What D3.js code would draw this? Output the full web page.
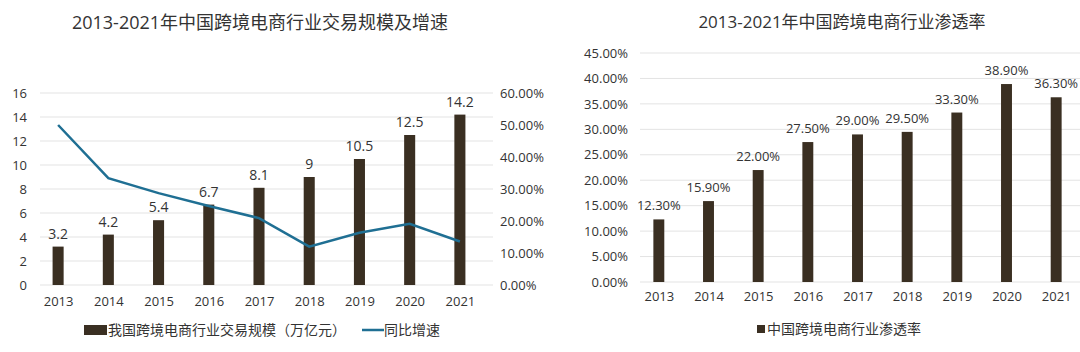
<!DOCTYPE html>
<html>
<head>
<meta charset="utf-8">
<script src="https://cdn.jsdelivr.net/npm/d3@7"></script>
<style>
  body { margin: 0; background: #fff; }
  svg { display: block; }
  text { font-family: "Open Sans", "Noto Sans CJK SC", sans-serif; fill: #333; }
</style>
</head>
<body>
<div id="container"></div>
<script>
// data
var years = ["2013", "2014", "2015", "2016", "2017", "2018", "2019", "2020", "2021"];
var tradeScale = [3.2, 4.2, 5.4, 6.7, 8.1, 9, 10.5, 12.5, 14.2];     // 万亿元
var growthRate = [50.0, 33.4, 28.7, 24.7, 20.9, 12.0, 16.3, 19.1, 13.6]; // %
var penetration = [12.3, 15.9, 22.0, 27.5, 29.0, 29.5, 33.3, 38.9, 36.3]; // %
var scaleTicks = [0, 2, 4, 6, 8, 10, 12, 14, 16];
var growthTicks = [0, 10, 20, 30, 40, 50, 60];
var penTicks = [0, 5, 10, 15, 20, 25, 30, 35, 40, 45];

var barColor = "#3a2f22",
    lineColor = "#1f6f93",
    gridColor = "#e3e3e3";

var svg = d3.select("#container")
  .append("svg")
    .attr("width", 1080)
    .attr("height", 352)
    .attr("id", "chart");

// ---------- left chart: trade scale + growth ----------
var left = svg.append("g");

var x1 = d3.scalePoint().domain(years).range([33, 485]).padding(0.5);
var y1 = d3.scaleLinear().domain([0, 16]).range([285, 93]);
var y1r = d3.scaleLinear().domain([0, 60]).range([285, 93]);

left.append("text")
  .attr("x", 260).attr("y", 29)
  .attr("text-anchor", "middle")
  .style("font-size", "18px")
  .text("2013-2021年中国跨境电商行业交易规模及增速");

// gridlines
left.selectAll(".grid").data(scaleTicks).enter().append("line")
  .attr("x1", 40).attr("x2", 493)
  .attr("y1", function(d) { return y1(d); })
  .attr("y2", function(d) { return y1(d); })
  .attr("stroke", gridColor);

// left axis
var axL = left.append("g")
  .attr("transform", "translate(30,0)")
  .call(d3.axisLeft(y1).tickValues(scaleTicks).tickSize(0).tickPadding(3));
axL.select(".domain").remove();
axL.selectAll("text").style("font-size", "13px").style("font-family", "Open Sans, sans-serif").attr("fill", "#444");

// right axis
var axR = left.append("g")
  .attr("transform", "translate(497,0)")
  .call(d3.axisRight(y1r).tickValues(growthTicks).tickSize(0).tickPadding(3)
    .tickFormat(function(d) { return d.toFixed(2) + "%"; }));
axR.select(".domain").remove();
axR.selectAll("text").style("font-size", "13px").style("font-family", "Open Sans, sans-serif").attr("fill", "#444");

// x axis
var axX = left.append("g")
  .attr("transform", "translate(0,285)")
  .call(d3.axisBottom(x1).tickSize(0).tickPadding(12));
axX.select(".domain").remove();
axX.selectAll("text").style("font-size", "13px").style("font-family", "Open Sans, sans-serif").attr("fill", "#333");

var bw1 = x1.step() * 0.22;

left.selectAll(".bar").data(tradeScale).enter().append("rect")
  .attr("x", function(d, i) { return x1(years[i]) - bw1 / 2; })
  .attr("y", function(d) { return y1(d); })
  .attr("width", bw1)
  .attr("height", function(d) { return y1(0) - y1(d); })
  .attr("fill", barColor);

left.selectAll(".blabel").data(tradeScale).enter().append("text")
  .attr("x", function(d, i) { return x1(years[i]); })
  .attr("y", function(d) { return y1(d) - 8; })
  .attr("text-anchor", "middle")
  .style("font-size", "14px")
  .text(function(d) { return d; });

left.append("path")
  .datum(growthRate)
  .attr("fill", "none")
  .attr("stroke", lineColor)
  .attr("stroke-width", 2.5)
  .attr("d", d3.line()
    .x(function(d, i) { return x1(years[i]); })
    .y(function(d) { return y1r(d); }));

// legend
left.append("rect")
  .attr("x", 84).attr("y", 325).attr("width", 23).attr("height", 10)
  .attr("fill", barColor);
left.append("text")
  .attr("x", 108).attr("y", 335)
  .style("font-size", "14px")
  .text("我国跨境电商行业交易规模（万亿元）");
left.append("line")
  .attr("x1", 362).attr("x2", 384).attr("y1", 330).attr("y2", 330)
  .attr("stroke", lineColor).attr("stroke-width", 2.5);
left.append("text")
  .attr("x", 384).attr("y", 335)
  .style("font-size", "14px")
  .text("同比增速");

// ---------- right chart: penetration ----------
var right = svg.append("g");

var x2 = d3.scalePoint().domain(years).range([634, 1081]).padding(0.5);
var y2 = d3.scaleLinear().domain([0, 45]).range([282, 53]);

right.append("text")
  .attr("x", 842).attr("y", 28)
  .attr("text-anchor", "middle")
  .style("font-size", "17px")
  .text("2013-2021年中国跨境电商行业渗透率");

right.selectAll(".grid").data(penTicks).enter().append("line")
  .attr("x1", 640).attr("x2", 1080)
  .attr("y1", function(d) { return y2(d); })
  .attr("y2", function(d) { return y2(d); })
  .attr("stroke", gridColor);

var axL2 = right.append("g")
  .attr("transform", "translate(631,0)")
  .call(d3.axisLeft(y2).tickValues(penTicks).tickSize(0).tickPadding(3)
    .tickFormat(function(d) { return d.toFixed(2) + "%"; }));
axL2.select(".domain").remove();
axL2.selectAll("text").style("font-size", "13px").style("font-family", "Open Sans, sans-serif").attr("fill", "#444");

var axX2 = right.append("g")
  .attr("transform", "translate(0,282)")
  .call(d3.axisBottom(x2).tickSize(0).tickPadding(10));
axX2.select(".domain").remove();
axX2.selectAll("text").style("font-size", "13px").style("font-family", "Open Sans, sans-serif").attr("fill", "#333");

var bw2 = x2.step() * 0.22;

right.selectAll(".bar").data(penetration).enter().append("rect")
  .attr("x", function(d, i) { return x2(years[i]) - bw2 / 2; })
  .attr("y", function(d) { return y2(d); })
  .attr("width", bw2)
  .attr("height", function(d) { return y2(0) - y2(d); })
  .attr("fill", barColor);

right.selectAll(".blabel").data(penetration).enter().append("text")
  .attr("x", function(d, i) { return x2(years[i]); })
  .attr("y", function(d) { return y2(d) - 9; })
  .attr("text-anchor", "middle")
  .style("font-size", "13px")
  .text(function(d) { return d.toFixed(2) + "%"; });

right.append("rect")
  .attr("x", 757).attr("y", 325).attr("width", 8).attr("height", 8)
  .attr("fill", barColor);
right.append("text")
  .attr("x", 767).attr("y", 334)
  .style("font-size", "14px")
  .text("中国跨境电商行业渗透率");
</script>
</body>
</html>
